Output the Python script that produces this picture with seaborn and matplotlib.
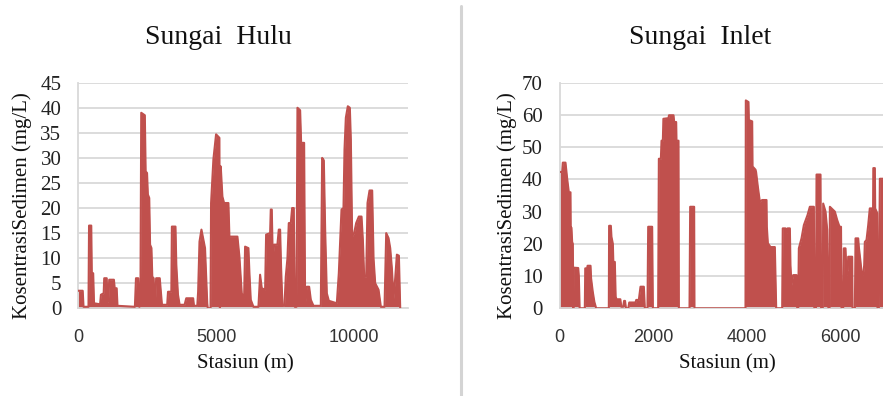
import matplotlib
matplotlib.use("Agg")
import matplotlib.pyplot as plt
from matplotlib.lines import Line2D
import seaborn as sns
import pandas as pd

# ---------------- data ----------------
hulu_station = [0, 170, 200, 380, 400, 480, 500, 550, 580, 800, 830, 930, 950, 1040, 1070, 1100, 1130, 1300,
                1330, 1400, 1430, 2060, 2100, 2180, 2220, 2260, 2290, 2420, 2450, 2500, 2530, 2580, 2610, 2660,
                2690, 2740, 2770, 2800, 2830, 2960, 3000, 3040, 3230, 3260, 3380, 3400, 3530, 3560, 3620, 3680,
                3860, 3920, 4170, 4200, 4320, 4350, 4400, 4470, 4530, 4600, 4650, 4680, 4700, 4800, 4819, 4903,
                5000, 5121, 5140, 5160, 5169, 5229, 5290, 5447, 5483, 5773, 5845, 5930, 6015, 6051, 6172, 6208,
                6256, 6353, 6534, 6594, 6655, 6776, 6812, 6957, 6981, 7017, 7053, 7102, 7222, 7271, 7319, 7355,
                7404, 7476, 7524, 7585, 7633, 7706, 7754, 7814, 7851, 7911, 7947, 8044, 8080, 8189, 8225, 8286,
                8370, 8431, 8527, 8793, 8841, 8902, 8950, 9010, 9083, 9373, 9445, 9542, 9614, 9651, 9699, 9771,
                9844, 9880, 9928, 10001, 10073, 10170, 10267, 10315, 10363, 10436, 10484, 10557, 10653, 10702,
                10762, 10883, 10967, 11100, 11161, 11245, 11306, 11366, 11426, 11487, 11547, 11620, 11668]
hulu_conc = [3.5, 3.5, 0.3, 0.3, 16.5, 16.5, 7, 7, 1, 0.8, 2.7, 3, 6, 6, 1.3, 1.3, 5.7, 5.7,
             4, 4, 0.5, 0.3, 6, 6, 0.3, 0.5, 39, 38.5, 27.3, 27, 22.7, 22, 12.7, 12,
             6.3, 6, 1, 1, 6, 6, 3.3, 0.7, 0.7, 3.3, 3.3, 16.3, 16.3, 8.7, 2.7, 0.7,
             0.7, 2, 2, 0.5, 0.5, 3.3, 13.3, 15.7, 14, 12, 5, 1, 0, 0, 21, 29.7,
             34.7, 34, 0, 28.3, 28.3, 22.3, 21, 21, 14.3, 14.3, 10.3, 3, 2, 12.3, 12, 7,
             1.7, 0.3, 0.3, 6.7, 4, 3.7, 14.7, 15, 19.7, 19.7, 9.7, 12.7, 12.7, 15.7, 15.7, 8,
             0.5, 0.5, 6.3, 10, 17, 17, 20, 20, 0.3, 0.3, 40, 39.5, 33, 33, 0.5, 4.3,
             4.3, 1.7, 0.5, 0.5, 30, 29.5, 15.7, 3, 1.5, 1, 7, 19.7, 20, 31.7, 38, 40.3,
             40, 33.7, 14.3, 15, 17, 18.3, 18.3, 13.7, 6.3, 6.3, 21, 23.5, 23.5, 10,
             5, 3.7, 0.3, 0.3, 15, 14, 12, 8, 2, 6, 10.7, 10.5, 0]

inlet_station = [0, 57, 71, 128, 164, 199, 235, 240, 256, 270, 285, 295, 306, 400, 413, 430, 541, 550, 591,
                 600, 663, 675, 710, 745, 783, 1054, 1060, 1097, 1110, 1140, 1150, 1182, 1200, 1218, 1300,
                 1320, 1360, 1380, 1400, 1420, 1470, 1490, 1624, 1640, 1695, 1731, 1802, 1823, 1880, 1895,
                 1980, 1995, 2108, 2123, 2166, 2180, 2208, 2220, 2329, 2340, 2436, 2450, 2493, 2500, 2543,
                 2550, 2778, 2792, 2877, 2884, 3974, 3981, 4038, 4046, 4117, 4125, 4188, 4200, 4238, 4281,
                 4330, 4423, 4430, 4452, 4508, 4601, 4630, 4758, 4770, 4829, 4850, 4872, 4922, 4935, 4957,
                 4993, 5064, 5080, 5100, 5114, 5171, 5221, 5299, 5349, 5435, 5445, 5480, 5492, 5577, 5590,
                 5625, 5634, 5684, 5720, 5745, 5770, 5777, 5883, 5933, 5983, 6015, 6026, 6061, 6075, 6111,
                 6133, 6161, 6168, 6254, 6261, 6311, 6325, 6382, 6396, 6432, 6460, 6489, 6510, 6524, 6560,
                 6596, 6630, 6700, 6705, 6738, 6745, 6788, 6795, 6823, 6845, 6923, 6960]
inlet_conc = [42.3, 42.3, 45.2, 45.2, 40.2, 36, 36, 25, 25, 20.6, 20, 0, 12.6, 12.5, 10, 0, 0, 12.4, 12.4,
              13.2, 13.2, 9.3, 5.2, 2, 0, 0, 25.6, 25.6, 22.2, 20, 14.4, 14.4, 3.6, 2.8, 2.8,
              0.5, 0.5, 2.3, 2.3, 0, 0, 1.8, 1.8, 2.6, 2.6, 6.7, 6.7, 0, 0, 25.3,
              25.3, 0, 0, 46.4, 46.4, 52, 52, 58.8, 59, 59.9, 59.9, 57.8, 57.8, 52, 52,
              0, 0, 31.5, 31.5, 0, 0, 64.5, 64, 58.4, 58, 44, 43, 42.3, 37.7, 33,
              33.6, 33.6, 25.3, 20.2, 19, 19, 0, 0, 24.8, 24.8, 23.3, 24.8, 24.8, 13.4, 7.2,
              10.3, 10.3, 0, 0, 18.6, 21.7, 25.8, 28.9, 31.5, 31.5, 0, 0, 41.5, 41.5, 0,
              0, 32.5, 30, 24.3, 0, 0, 31.5, 30, 27.4, 25.3, 25.3, 0, 0, 18.6, 18.6,
              10.3, 12, 16, 16, 0, 0, 21.7, 21.7, 19, 14.4, 10.3, 10.3, 13.4, 20.6, 21.2,
              25.8, 31, 31, 43.5, 43.5, 31, 29.5, 0, 0, 40.2, 40.2, 40]

panel_titles = ["Sungai  Hulu", "Sungai  Inlet"]
y_label = "KosentrasiSedimen (mg/L)"
x_label = "Stasiun (m)"

# ---------------- style ----------------
sns.set_theme(style="white")
RED = "#C0504D"
GRID = "#D9D9D9"
SERIF = "Liberation Serif"
SANS = "Liberation Sans"

W, H = 883, 396
fig = plt.figure(figsize=(W / 100, H / 100), dpi=100)
fig.patch.set_facecolor("white")

y0_px, y1_px = 308.3, 82.7
bottom = (H - y0_px) / H
height = (y0_px - y1_px) / H

panels = [
    dict(st=hulu_station, c=hulu_conc, left=78, right=408, xlim=(0, 11950), xt=[0, 5000, 10000],
         ylim=45, ystep=5, title_x=218, ylab_x=-0.139, xlab_x=0.506),
    dict(st=inlet_station, c=inlet_conc, left=559.5, right=883, xlim=(0, 6912), xt=[0, 2000, 4000, 6000],
         ylim=70, ystep=10, title_x=700, ylab_x=-0.131, xlab_x=0.518),
]

for i, p in enumerate(panels):
    ax = fig.add_axes([p["left"] / W, bottom, (p["right"] - p["left"]) / W, height])
    df = pd.DataFrame({"Stasiun": p["st"], "Konsentrasi": p["c"]})
    ax.fill_between(df["Stasiun"], df["Konsentrasi"], 0, color=RED, lw=0, zorder=2)
    sns.lineplot(data=df, x="Stasiun", y="Konsentrasi", ax=ax, color=RED, lw=1.5,
                 estimator=None, sort=False, zorder=3)
    ax.set_xlim(*p["xlim"])
    ax.set_ylim(0, p["ylim"])
    ax.set_yticks(range(0, p["ylim"] + 1, p["ystep"]))
    ax.set_xticks(p["xt"])
    ax.yaxis.grid(True, color=GRID, lw=1.3, zorder=0)
    ax.xaxis.grid(False)
    ax.set_axisbelow(True)
    for s in ["top", "right"]:
        ax.spines[s].set_visible(False)
    for s in ["left", "bottom"]:
        ax.spines[s].set_color(GRID)
        ax.spines[s].set_linewidth(1.3)
    ax.tick_params(axis="y", length=0, pad=12, labelsize=15, labelcolor="#222222")
    ax.tick_params(axis="x", length=0, pad=15, labelsize=13, labelcolor="#333333")
    for t in ax.get_yticklabels():
        t.set_fontfamily(SERIF)
    for t in ax.get_xticklabels():
        t.set_fontfamily(SANS)
    ax.set_ylabel(y_label, fontfamily=SERIF, fontsize=15, color="#111111")
    ax.yaxis.set_label_coords(p["ylab_x"], 0.455)
    ax.set_xlabel(x_label, fontfamily=SERIF, fontsize=15, color="#111111")
    ax.xaxis.set_label_coords(p["xlab_x"], -0.205)
    fig.text(p["title_x"] / W, 1 - 38 / H, panel_titles[i], ha="center", va="center",
             fontfamily=SERIF, fontsize=20, color="#111111")

fig.add_artist(Line2D([461 / W, 461 / W], [0, 1 - 6 / H], color="#D4D4D4", lw=2.2))

fig.savefig("out.png", dpi=100, facecolor="white")
